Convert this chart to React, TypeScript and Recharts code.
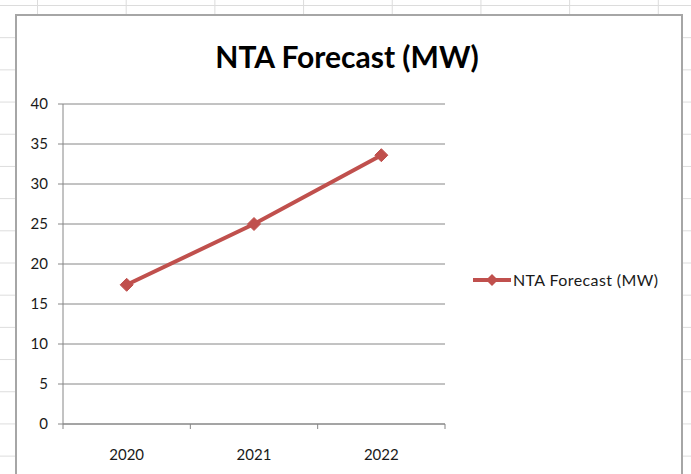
import { LineChart, Line, XAxis, YAxis, CartesianGrid } from 'recharts'

const years = ['2020', '2021', '2022']
const forecastMW = [17.4, 25, 33.6]
const yTicks = [0, 5, 10, 15, 20, 25, 30, 35, 40]

const SERIES = 'NTA Forecast (MW)'
const RED = '#C0504D'
const AXIS = '#868686'
const FONT = 'Lato, "Open Sans", sans-serif'

const data = years.map((year, i) => ({ year, value: forecastMW[i] }))

function Diamond({ cx, cy }: { cx?: number; cy?: number }) {
  if (cx == null || cy == null) return null
  const r = 6.5
  return (
    <polygon
      points={`${cx},${cy - r} ${cx + r},${cy} ${cx},${cy + r} ${cx - r},${cy}`}
      fill={RED}
      stroke={RED}
    />
  )
}

// category label in the middle, tick marks on the band edges (Excel style)
function YearTick(props: any) {
  const { x, y, payload, index, width } = props
  const band = (width || 382) / years.length
  const left = x - band / 2
  return (
    <g>
      <line x1={left} y1={y - 8} x2={left} y2={y - 3} stroke={AXIS} />
      {index === years.length - 1 && (
        <line x1={left + band} y1={y - 8} x2={left + band} y2={y - 3} stroke={AXIS} />
      )}
      <text x={x} y={y + 28} textAnchor="middle" fontSize={15} fill="#1a1a1a" fontFamily={FONT}>
        {payload.value}
      </text>
    </g>
  )
}

export default function App() {
  return (
    <div
      style={{
        position: 'absolute',
        left: 0,
        top: 0,
        width: 691,
        height: 474,
        overflow: 'hidden',
        background: '#fff',
        backgroundImage:
          'linear-gradient(to right, #dcdcdc 1px, transparent 1px), linear-gradient(to bottom, #dcdcdc 1px, transparent 1px)',
        backgroundSize: '88.7px 32.2px',
        backgroundPosition: '37px 5px',
      }}
    >
      <div
        style={{
          position: 'absolute',
          left: 15,
          top: 14,
          width: 664,
          height: 480,
          background: '#fff',
          border: '2px solid #a6a6a6',
        }}
      />
      <div
        style={{
          position: 'absolute',
          left: 0,
          top: 38,
          width: 694,
          textAlign: 'center',
          fontFamily: FONT,
          fontWeight: 700,
          fontSize: 30,
          color: '#000',
        }}
      >
        {SERIES}
      </div>
      <div style={{ position: 'absolute', left: 0, top: 0 }}>
        <LineChart width={691} height={474} data={data} margin={{ top: 104, right: 246, bottom: 20, left: 0 }}>
          <CartesianGrid vertical={false} stroke={AXIS} />
          <XAxis
            dataKey="year"
            scale="band"
            height={30}
            stroke={AXIS}
            tickLine={false}
            tick={<YearTick />}
            interval={0}
          />
          <YAxis
            width={63}
            domain={[0, 40]}
            ticks={yTicks}
            stroke={AXIS}
            tickSize={5}
            tickMargin={10}
            tick={{ fill: '#1a1a1a', fontSize: 15, fontFamily: FONT }}
          />
          <Line
            dataKey="value"
            name={SERIES}
            stroke={RED}
            strokeWidth={4}
            dot={<Diamond />}
            activeDot={false}
            isAnimationActive={false}
          />
        </LineChart>
      </div>
      <div
        style={{
          position: 'absolute',
          left: 473,
          top: 270,
          display: 'flex',
          alignItems: 'center',
          fontFamily: FONT,
          fontSize: 16,
          letterSpacing: 0.4,
          color: '#1a1a1a',
        }}
      >
        <svg width={40} height={16}>
          <line x1={0} y1={8} x2={38} y2={8} stroke={RED} strokeWidth={4} />
          <polygon points="19,2 25,8 19,14 13,8" fill={RED} />
        </svg>
        <span>{SERIES}</span>
      </div>
    </div>
  )
}
